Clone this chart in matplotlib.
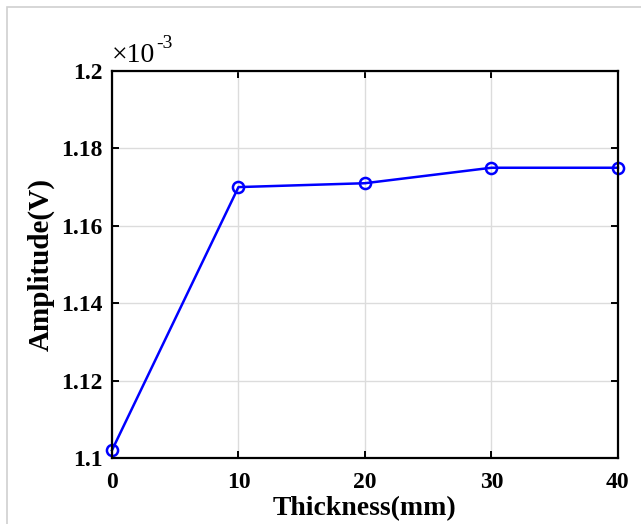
import matplotlib.pyplot as plt
from matplotlib.patches import Rectangle

# Data
thickness = [0, 10, 20, 30, 40]
amplitude = [1.102, 1.170, 1.171, 1.175, 1.175]  # x 1e-3 V
y_ticks = [1.1, 1.12, 1.14, 1.16, 1.18, 1.2]
y_labels = ['1.1', '1.12', '1.14', '1.16', '1.18', '1.2']
x_ticks = [0, 10, 20, 30, 40]

plt.rcParams['font.family'] = 'Liberation Serif'
plt.rcParams['font.weight'] = 'bold'

fig = plt.figure(figsize=(6.41, 5.24), dpi=100)
ax = fig.add_axes([0.1747, 0.126, 0.7893, 0.7385])

# light frame around the figure
fig.patches.append(Rectangle((7 / 641, -0.1), 1.2, 1 - 7 / 524 + 0.1,
                             transform=fig.transFigure, fill=False,
                             edgecolor='#d0d0d0', linewidth=1.2))

ax.plot(thickness, amplitude, color='blue', linewidth=1.8, marker='o',
        markersize=8, markerfacecolor='none', markeredgewidth=1.8, clip_on=False)

ax.set_xlim(0, 40)
ax.set_ylim(1.1, 1.2)
ax.set_xticks(x_ticks)
ax.set_yticks(y_ticks)
ax.set_yticklabels(y_labels)
ax.grid(True, color='#dcdcdc', linewidth=1.0)
ax.set_axisbelow(True)
ax.tick_params(direction='in', length=5, width=1.4, labelsize=17, top=True, right=True)
ax.tick_params(axis='x', pad=10)
ax.tick_params(axis='y', pad=7)
for s in ax.spines.values():
    s.set_linewidth(1.6)

ax.set_xlabel('Thickness(mm)', fontsize=20, fontweight='bold', labelpad=2)
ax.set_ylabel('Amplitude(V)', fontsize=21, fontweight='bold', labelpad=4)
ax.text(0.0, 1.008, '\u00d710', transform=ax.transAxes,
        fontsize=20, fontweight='normal', ha='left', va='bottom')
ax.text(0.087, 1.05, '-3', transform=ax.transAxes,
        fontsize=14, fontweight='normal', ha='left', va='bottom')

fig.savefig('out.png', dpi=100)
